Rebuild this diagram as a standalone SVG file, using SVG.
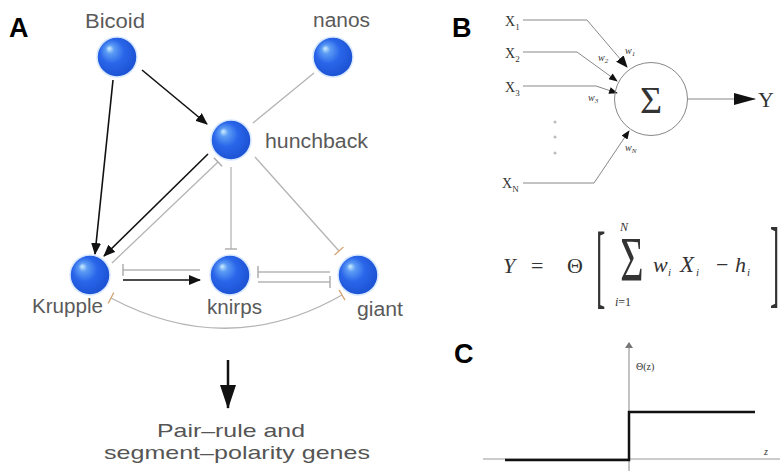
<svg xmlns="http://www.w3.org/2000/svg" width="780" height="471" viewBox="0 0 780 471">
<defs>
<radialGradient id="ball" cx="0.45" cy="0.45" r="0.6" fx="0.3" fy="0.28">
<stop offset="0" stop-color="#cfefff"/>
<stop offset="0.18" stop-color="#5c9cf4"/>
<stop offset="0.5" stop-color="#2a66ea"/>
<stop offset="1" stop-color="#1a4fd0"/>
</radialGradient>
<marker id="arrB" viewBox="0 0 12 10" refX="11" refY="5" markerWidth="12" markerHeight="10" markerUnits="userSpaceOnUse" orient="auto">
<path d="M0,0 L12,5 L0,10 Z" fill="#111"/>
</marker>
<marker id="arrS" viewBox="0 0 10 8" refX="9" refY="4" markerWidth="10" markerHeight="7" markerUnits="userSpaceOnUse" orient="auto">
<path d="M0,0 L10,4 L0,8 Z" fill="#111"/>
</marker>
<marker id="arrY" viewBox="0 0 22 12" refX="21" refY="6" markerWidth="22" markerHeight="12" markerUnits="userSpaceOnUse" orient="auto">
<path d="M0,0 L22,6 L0,12 Z" fill="#111"/>
</marker>
<marker id="arrD" viewBox="0 0 24 16" refX="23" refY="8" markerWidth="24" markerHeight="16" markerUnits="userSpaceOnUse" orient="auto">
<path d="M0,0 L24,8 L0,16 Z" fill="#111"/>
</marker>
<marker id="arrAx" viewBox="0 0 6 8" refX="5" refY="4" markerWidth="6" markerHeight="8" markerUnits="userSpaceOnUse" orient="auto">
<path d="M0,0 L6,4 L0,8 Z" fill="#777"/>
</marker>
<marker id="bar" viewBox="-1 -7 2 14" refX="0" refY="0" markerWidth="2" markerHeight="14" markerUnits="userSpaceOnUse" orient="auto">
<path d="M0,-6 L0,6" stroke="#aaa" stroke-width="1.4"/>
</marker>
<marker id="barT" viewBox="-1 -7 2 14" refX="0" refY="0" markerWidth="2" markerHeight="14" markerUnits="userSpaceOnUse" orient="auto">
<path d="M0,-6 L0,6" stroke="#d6a878" stroke-width="1.4"/>
</marker>
</defs>
<style>
.lbl{font-family:"Liberation Sans",Arial,sans-serif;font-weight:bold;font-size:27px;fill:#000}
.gene{font-family:"Liberation Sans",Arial,sans-serif;font-size:20px;fill:#5a5a5a}
.cap{font-family:"Liberation Sans",Arial,sans-serif;font-size:19px;fill:#555;text-anchor:middle}
.act{stroke:#111;stroke-width:1.6;fill:none}
.inh{stroke:#b4b4b4;stroke-width:1.3;fill:none}
.thin{stroke:#888;stroke-width:1;fill:none}
.ser{font-family:"Liberation Serif","Times New Roman",serif;fill:#333}
.it{font-style:italic}
.node{fill:url(#ball);stroke:#d8e8ff;stroke-width:1.5}
</style>
<rect width="780" height="471" fill="#fff"/>

<text class="lbl" x="9" y="37">A</text>
<text class="lbl" x="452" y="37">B</text>
<text class="lbl" x="454" y="363">C</text>

<g id="connectors">
<line class="act" x1="113" y1="80" x2="95" y2="254" marker-end="url(#arrB)"/>
<line class="act" x1="142" y1="70" x2="207" y2="124" marker-end="url(#arrB)"/>
<line class="inh" x1="314" y1="73" x2="253" y2="123"/>
<line class="act" x1="208" y1="154" x2="104" y2="256" marker-end="url(#arrB)"/>
<line class="inh" x1="112" y1="263" x2="218" y2="162" marker-end="url(#bar)"/>
<line class="inh" x1="231" y1="167" x2="231" y2="249" marker-end="url(#bar)"/>
<line class="inh" x1="255" y1="157" x2="339" y2="251" marker-end="url(#barT)"/>
<line class="inh" x1="200" y1="270" x2="123" y2="270" marker-end="url(#bar)"/>
<line class="act" x1="123" y1="280" x2="200" y2="280" marker-end="url(#arrB)"/>
<line class="inh" x1="330" y1="272" x2="258" y2="272" marker-end="url(#bar)"/>
<line class="inh" x1="258" y1="282" x2="330" y2="282" marker-end="url(#bar)"/>
<path class="inh" d="M342,295 Q228,360 111,298" marker-start="url(#barT)" marker-end="url(#barT)"/>
<line x1="228" y1="360" x2="228" y2="408" stroke="#111" stroke-width="2.5" marker-end="url(#arrD)"/>

<polyline class="thin" points="523,20 587,20 627,67" marker-end="url(#arrB)"/>
<polyline class="thin" points="523,52 577,52 617,81" marker-end="url(#arrS)"/>
<polyline class="thin" points="523,86 596,86 617,93" marker-end="url(#arrS)"/>
<polyline class="thin" points="523,183 594,183 629,131" marker-end="url(#arrS)"/>
<line class="thin" x1="688" y1="99" x2="755" y2="99" marker-end="url(#arrY)"/>

<line stroke="#888" stroke-width="1" x1="629" y1="471" x2="629" y2="343" marker-end="url(#arrAx)"/>
<line stroke="#999" stroke-width="1" x1="483" y1="459" x2="780" y2="459"/>
<path d="M505,460 H629 V412 H755" stroke="#111" stroke-width="2.5" fill="none"/>
</g>

<g id="bicoid"><circle class="node" cx="117" cy="57" r="20"/><text class="gene" x="85" y="28" textLength="60" lengthAdjust="spacingAndGlyphs">Bicoid</text></g>
<g id="nanos"><circle class="node" cx="333" cy="57" r="20"/><text class="gene" x="313" y="27" textLength="57" lengthAdjust="spacingAndGlyphs">nanos</text></g>
<g id="hunchback"><circle class="node" cx="231" cy="140" r="20"/><text class="gene" x="265" y="148" textLength="103" lengthAdjust="spacingAndGlyphs">hunchback</text></g>
<g id="krupple"><circle class="node" cx="90" cy="275" r="20"/><text class="gene" x="32" y="313" textLength="71" lengthAdjust="spacingAndGlyphs">Krupple</text></g>
<g id="knirps"><circle class="node" cx="230" cy="275" r="20"/><text class="gene" x="207" y="314" textLength="55" lengthAdjust="spacingAndGlyphs">knirps</text></g>
<g id="giant"><circle class="node" cx="358" cy="275" r="20"/><text class="gene" x="357" y="316" textLength="46" lengthAdjust="spacingAndGlyphs">giant</text></g>

<g id="output-genes">
<text class="cap" x="231" y="437" textLength="148" lengthAdjust="spacingAndGlyphs">Pair–rule and</text>
<text class="cap" x="237" y="459" textLength="266" lengthAdjust="spacingAndGlyphs">segment–polarity genes</text>
</g>

<g id="neuron">
<circle cx="651" cy="99" r="36.5" fill="none" stroke="#888" stroke-width="1"/>
<text class="ser" x="651" y="113" font-size="38" text-anchor="middle" fill="#111">Σ</text>
</g>

<g id="inputs">
<text class="ser" x="505" y="26" font-size="14">X<tspan font-size="9" dy="4">1</tspan></text>
<text class="ser" x="505" y="58" font-size="14">X<tspan font-size="9" dy="4">2</tspan></text>
<text class="ser" x="505" y="92" font-size="14">X<tspan font-size="9" dy="4">3</tspan></text>
<text class="ser" x="502" y="188" font-size="14">X<tspan font-size="9" dy="4">N</tspan></text>
<circle cx="555" cy="122" r="1.5" fill="#bbb"/>
<circle cx="555" cy="137" r="1.5" fill="#bbb"/>
<circle cx="555" cy="153" r="1.5" fill="#bbb"/>
<text class="ser it" x="625" y="54" font-size="10" fill="#666">w<tspan font-size="7" dy="2">1</tspan></text>
<text class="ser it" x="598" y="61" font-size="10" fill="#666">w<tspan font-size="7" dy="2">2</tspan></text>
<text class="ser it" x="588" y="101" font-size="10" fill="#666">w<tspan font-size="7" dy="2">3</tspan></text>
<text class="ser it" x="625" y="151" font-size="10" fill="#666">w<tspan font-size="7" dy="2">N</tspan></text>
<text class="ser" x="758" y="107" font-size="22" fill="#222">Y</text>
</g>

<g id="formula" class="ser" fill="#222">
<text class="it" x="503" y="273" font-size="22">Y</text>
<text x="531" y="273" font-size="22">=</text>
<text x="567" y="273" font-size="22">Θ</text>
<text x="596" y="0" font-size="28" transform="translate(0,297) scale(1,3.3)">[</text>
<text x="632" y="0" font-size="40" text-anchor="middle" transform="translate(0,281) scale(1,1.6)">Σ</text>
<text class="it" x="624" y="231" font-size="12" text-anchor="middle">N</text>
<text x="623" y="306" font-size="12" text-anchor="middle"><tspan class="it">i</tspan>=1</text>
<text y="272" font-size="22"><tspan class="it" x="653">w</tspan><tspan class="it" font-size="11" x="668" dy="4">i</tspan><tspan class="it" x="680" dy="-4" font-size="23">X</tspan><tspan class="it" font-size="11" x="696" dy="4">i</tspan><tspan x="716" dy="-4">−</tspan><tspan class="it" x="735">h</tspan><tspan class="it" font-size="11" x="747" dy="4">i</tspan></text>
<text x="770" y="0" font-size="28" transform="translate(0,295) scale(1,3.5)">]</text>
</g>

<g id="step-labels">
<text class="ser" x="636" y="370" font-size="10" fill="#777">Θ(z)</text>
<text class="ser it" x="764" y="455" font-size="10" fill="#555">z</text>
</g>
</svg>
